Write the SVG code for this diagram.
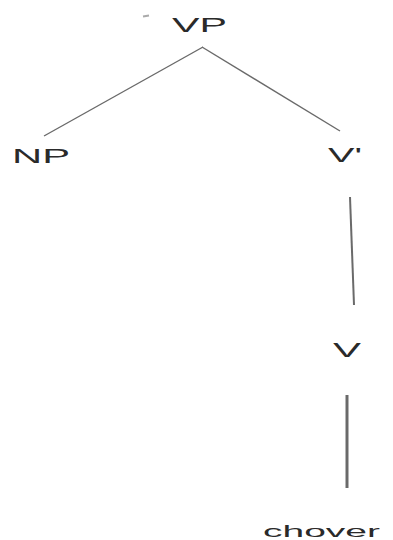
<svg xmlns="http://www.w3.org/2000/svg" width="393" height="540" viewBox="0 0 393 540">
<style>
.lbl{font-family:"Liberation Sans",Arial,sans-serif;font-size:20px;fill:#2a2a2a}
.edge{stroke:#6a6a6a;stroke-width:1.4;fill:none;stroke-linecap:butt}
</style>
<rect width="393" height="540" fill="#ffffff"/>
<g id="connectors">
<line class="edge" x1="203" y1="47" x2="44" y2="136"/>
<line class="edge" x1="202" y1="47" x2="340" y2="131"/>
<line class="edge" x1="350" y1="197" x2="354" y2="305" style="stroke-width:2"/>
<line class="edge" x1="347" y1="395" x2="347" y2="488" style="stroke-width:3"/>
<line x1="143" y1="16.5" x2="149" y2="15.5" stroke="#aaaaaa" stroke-width="2"/>
</g>
<g id="node-VP"><text class="lbl" x="172" y="32" textLength="55" lengthAdjust="spacingAndGlyphs">VP</text></g>
<g id="node-NP"><text class="lbl" x="12" y="163" textLength="58" lengthAdjust="spacingAndGlyphs">NP</text></g>
<g id="node-Vbar"><text class="lbl" x="328" y="162" textLength="34" lengthAdjust="spacingAndGlyphs">V'</text></g>
<g id="node-V"><text class="lbl" x="333" y="357" textLength="28" lengthAdjust="spacingAndGlyphs">V</text></g>
<g id="node-chover"><text class="lbl" x="263" y="537" style="font-size:17px" textLength="117" lengthAdjust="spacingAndGlyphs">chover</text></g>
</svg>
